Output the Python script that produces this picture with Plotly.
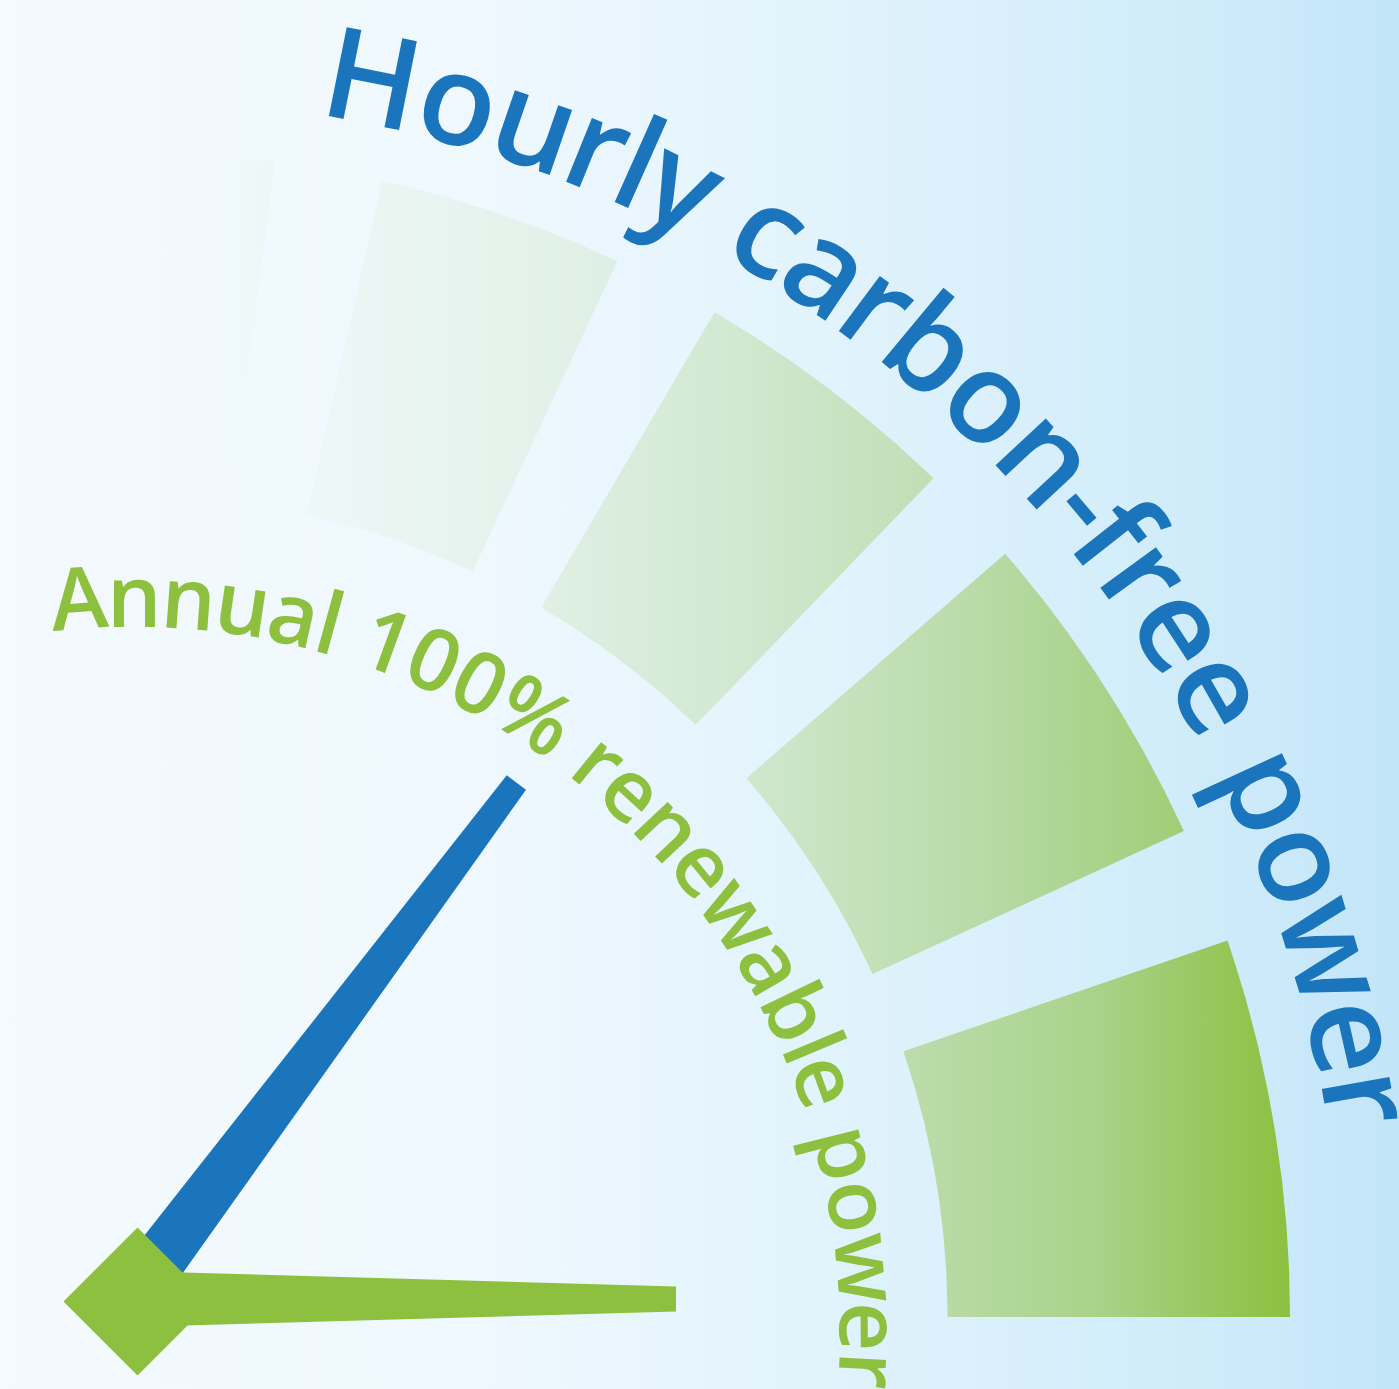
import numpy as np
import plotly.graph_objects as go

W, H = 1399, 1389

# ---------------- data ----------------
segment_start_deg = [0.0, 24.65, 46.05, 65.0, 82.6]
segment_end_deg = [18.85, 40.93, 59.6, 77.25, 93.5]
segment_level_left = [0.42, 0.24, 0.13, 0.03, 0.0]
segment_level_mid = [0.60, 0.43, 0.23, 0.08, 0.0]
segment_level_right = [1.0, 0.70, 0.37, 0.13, 0.04]

needle_labels = ["Hourly carbon-free power", "Annual 100% renewable power"]
needle_angle_deg = [53.2, 0.0]

# ---------------- styles / geometry ----------------
BLUE = "#1b75bc"
GREEN_RGB = (141, 192, 63)
GREEN = "rgb(141,192,63)"
SEG_C = (125.0, 1317.0)
R_IN, R_OUT = 822.5, 1165.0
PIV = (130.0, 1299.0)
needle_len = [645, 546]
needle_base_w = [56, 56]
needle_tip_w = [24, 25]
needle_colors = [BLUE, GREEN]
seg_mid_pos = [0.5, 0.5, 0.5, 0.5, 0.75]

fig = go.Figure()

# background gradient
fig.add_trace(go.Scatter(
    x=[0, W, W, 0, 0], y=[0, 0, H, H, 0], mode="lines", fill="toself",
    line=dict(width=0), hoverinfo="skip", showlegend=False,
    fillgradient=dict(type="horizontal", colorscale=[
        [0, "#f4fafd"], [0.35, "#eef8fe"], [0.55, "#e4f4fc"],
        [0.75, "#d7effb"], [0.9, "#cceafa"], [1, "#c2e5f8"]])))


def pol(c, r, a_deg):
    a = np.radians(a_deg)
    return c[0] + r * np.cos(a), c[1] - r * np.sin(a)


def rgba(a):
    return "rgba(%d,%d,%d,%.3f)" % (GREEN_RGB + (a,))


# gauge segments
for s, e, al, am, ar, mp in zip(segment_start_deg, segment_end_deg, segment_level_left,
                                 segment_level_mid, segment_level_right, seg_mid_pos):
    ang_o = np.linspace(s, e, 80)
    ang_i = ang_o[::-1]
    xo, yo = pol(SEG_C, R_OUT, ang_o)
    xi, yi = pol(SEG_C, R_IN, ang_i)
    xs = np.concatenate([xo, xi, xo[:1]])
    ys = np.concatenate([yo, yi, yo[:1]])
    fig.add_trace(go.Scatter(
        x=xs, y=ys, mode="lines", fill="toself", line=dict(width=0),
        hoverinfo="skip", showlegend=False,
        fillgradient=dict(type="horizontal",
                          colorscale=[[0, rgba(al)], [mp, rgba(am)], [1, rgba(ar)]])))

# needles
for ang, L, wb, wt, col in zip(needle_angle_deg, needle_len, needle_base_w,
                               needle_tip_w, needle_colors):
    a = np.radians(ang)
    d = np.array([np.cos(a), -np.sin(a)])
    n = np.array([np.sin(a), np.cos(a)])
    p0 = np.array(PIV)
    p1 = p0 + L * d
    pts = [p0 + wb / 2 * n, p1 + wt / 2 * n, p1 - wt / 2 * n, p0 - wb / 2 * n, p0 + wb / 2 * n]
    fig.add_trace(go.Scatter(
        x=[p[0] for p in pts], y=[p[1] for p in pts], mode="lines", fill="toself",
        fillcolor=col, line=dict(width=0), hoverinfo="skip", showlegend=False))

# pivot diamond
dc, dh = (137.5, 1301.5), 74
fig.add_trace(go.Scatter(
    x=[dc[0], dc[0] + dh, dc[0], dc[0] - dh, dc[0]],
    y=[dc[1] - dh, dc[1], dc[1] + dh, dc[1], dc[1] - dh],
    mode="lines", fill="toself", fillcolor=GREEN, line=dict(width=0),
    hoverinfo="skip", showlegend=False))

# curved labels
W_EM = {" ": 0.26, "A": 0.633, "H": 0.76, "%": 0.86, "-": 0.32, "0": 0.572,
        "1": 0.572, "a": 0.556, "b": 0.613, "c": 0.476, "e": 0.561, "f": 0.339,
        "l": 0.253, "n": 0.614, "o": 0.604, "p": 0.613, "r": 0.408, "u": 0.614,
        "w": 0.783, "y": 0.5}

annotations = []


def arc_text(text, start, end, r_base, fs, color, center):
    widths = np.array([W_EM.get(ch, 0.56) for ch in text])
    cum = np.cumsum(widths) - widths / 2
    t = (cum - cum[0]) / (cum[-1] - cum[0])
    angles = start + (end - start) * t
    r = r_base + 0.388 * fs
    for ch, a in zip(text, angles):
        if ch == " ":
            continue
        x, y = pol(center, r, a)
        annotations.append(dict(
            x=x, y=y, xref="x", yref="y", text=ch, showarrow=False,
            xanchor="center", yanchor="middle", textangle=90 - a,
            font=dict(family="Open Sans", size=fs, color=color, weight=600)))


arc_text(needle_labels[0], 78.7, 10.0, 1218, 127, BLUE, SEG_C)
arc_text(needle_labels[1], 94.4, -3.0, 705, 86, GREEN, (135.0, 1332.0))

fig.update_layout(
    width=W, height=H, margin=dict(l=0, r=0, t=0, b=0),
    paper_bgcolor="#f4fafd", plot_bgcolor="rgba(0,0,0,0)",
    xaxis=dict(range=[0, W], visible=False, fixedrange=True),
    yaxis=dict(range=[H, 0], visible=False, fixedrange=True),
    annotations=annotations, showlegend=False)

fig.write_html("out.html", config={"displayModeBar": False},
               post_script="document.body.style.margin='0';")
